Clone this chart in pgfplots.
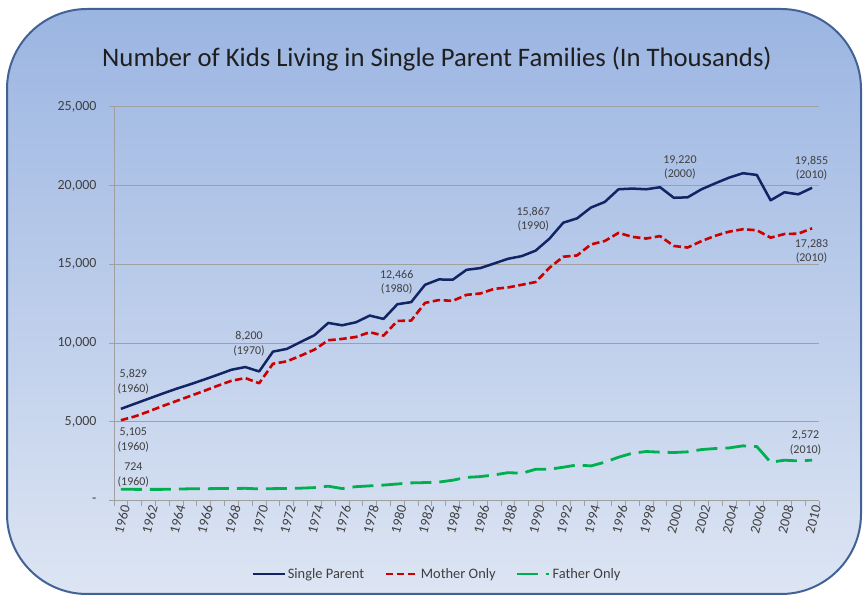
\documentclass[border=0pt]{standalone}
\usepackage{fontspec}
\setmainfont{Carlito}
\usepackage{pgfplots}
\pgfplotsset{compat=1.18}
\definecolor{navy}{RGB}{18,36,100}
\definecolor{redl}{RGB}{204,0,0}
\definecolor{greenl}{RGB}{0,176,80}
\definecolor{gridg}{RGB}{160,160,160}
\definecolor{txt}{RGB}{64,64,64}
\definecolor{bgtop}{RGB}{155,181,226}
\definecolor{bgbot}{RGB}{221,229,243}
\definecolor{border}{RGB}{66,98,150}
\begin{document}
\begin{tikzpicture}
\path (0,0) rectangle (864bp,599bp);
\path[top color=bgtop, bottom color=bgbot, draw=border, line width=2bp, rounded corners=80bp] (7bp,5bp) rectangle (861bp,590bp);
\node[font=\fontsize{26.8}{30}\selectfont, text=black!88] at (437bp,540bp) {Number of Kids Living in Single Parent Families (In Thousands)};
\begin{axis}[
  at={(114bp,98.3bp)}, anchor=south west,
  scale only axis, width=705bp, height=394bp,
  xmin=1959.5, xmax=2010.5, ymin=0, ymax=25000,
  axis x line=bottom, axis y line=left,
  axis line style={gridg, line width=1bp, -},
  scaled y ticks=false,
  ytick={0,5000,10000,15000,20000,25000},
  minor ytick={0,5000,10000,15000,20000,25000},
  yticklabels={-,{5,000},{10,000},{15,000},{20,000},{25,000}},
  ymajorgrids, major grid style={gridg, line width=0.9bp},
  tick align=outside, major tick length=0pt, minor tick length=5bp,
  tick style={gridg, line width=0.9bp},
  xtick={1960,1962,...,2010},
  minor xtick={1959.5,1960.5,...,2010.5},
  xticklabel style={rotate=75, anchor=east, yshift=-6bp, /pgf/number format/1000 sep=},
  yticklabel style={xshift=-14bp},
  tick label style={font=\fontsize{14}{16}\selectfont, text=txt},
  /pgf/number format/assume math mode=true,
  clip=false,
  legend style={at={(0.458,-0.186)}, anchor=center, legend columns=3, draw=none, fill=none,
    font=\fontsize{14.5}{16}\selectfont, text=txt,
    /tikz/every even column/.append style={column sep=18bp}},
  legend image code/.code={\draw[#1] (0bp,0bp) -- (32bp,0bp);},
  every axis plot/.append style={line join=round},
]
\addplot[navy, line width=2.5bp] coordinates {
(1960,5829)(1961,6150)(1962,6470)(1963,6790)(1964,7100)(1965,7380)(1966,7680)(1967,7990)(1968,8310)(1969,8480)
(1970,8200)(1971,9460)(1972,9630)(1973,10070)(1974,10500)(1975,11280)(1976,11130)(1977,11320)(1978,11745)(1979,11535)
(1980,12466)(1981,12600)(1982,13700)(1983,14040)(1984,14020)(1985,14650)(1986,14760)(1987,15050)(1988,15350)(1989,15520)
(1990,15867)(1991,16625)(1992,17640)(1993,17915)(1994,18600)(1995,18955)(1996,19760)(1997,19805)(1998,19760)(1999,19890)
(2000,19220)(2001,19250)(2002,19760)(2003,20140)(2004,20500)(2005,20780)(2006,20670)(2007,19060)(2008,19570)(2009,19440)
(2010,19855)};
\addlegendentry{Single Parent}
\addplot[redl, line width=2.6bp, dash pattern=on 7.5bp off 3.5bp] coordinates {
(1960,5105)(1961,5345)(1962,5660)(1963,6000)(1964,6320)(1965,6640)(1966,6960)(1967,7295)(1968,7610)(1969,7780)
(1970,7452)(1971,8690)(1972,8840)(1973,9200)(1974,9585)(1975,10180)(1976,10265)(1977,10390)(1978,10690)(1979,10475)
(1980,11406)(1981,11430)(1982,12550)(1983,12730)(1984,12680)(1985,13060)(1986,13150)(1987,13440)(1988,13530)(1989,13700)
(1990,13874)(1991,14780)(1992,15480)(1993,15563)(1994,16260)(1995,16477)(1996,16993)(1997,16740)(1998,16634)(1999,16790)
(2000,16162)(2001,16064)(2002,16473)(2003,16810)(2004,17072)(2005,17225)(2006,17161)(2007,16690)(2008,16920)(2009,16945)
(2010,17283)};
\addlegendentry{Mother Only}
\addplot[greenl, line width=2.8bp, dash pattern=on 21bp off 8bp] coordinates {
(1960,724)(1961,720)(1962,718)(1963,720)(1964,735)(1965,755)(1966,760)(1967,770)(1968,775)(1969,785)
(1970,748)(1971,765)(1972,775)(1973,795)(1974,830)(1975,920)(1976,770)(1977,890)(1978,940)(1979,990)
(1980,1060)(1981,1130)(1982,1150)(1983,1180)(1984,1300)(1985,1480)(1986,1530)(1987,1635)(1988,1780)(1989,1740)
(1990,1993)(1991,1995)(1992,2125)(1993,2270)(1994,2205)(1995,2440)(1996,2760)(1997,3015)(1998,3120)(1999,3080)
(2000,3058)(2001,3100)(2002,3245)(2003,3310)(2004,3350)(2005,3480)(2006,3435)(2007,2440)(2008,2570)(2009,2525)
(2010,2572)};
\addlegendentry{Father Only}
\tikzset{ann/.style={font=\fontsize{12}{14.5}\selectfont, text=txt, align=center, inner sep=0pt}}
\node[ann] at (axis cs:1960.9,7549) {5,829\\(1960)};
\node[ann] at (axis cs:1960.9,3860) {5,105\\(1960)};
\node[ann] at (axis cs:1960.9,1635) {724\\(1960)};
\node[ann] at (axis cs:1969.27,9966) {8,200\\(1970)};
\node[ann] at (axis cs:1979.95,13846) {12,466\\(1980)};
\node[ann] at (axis cs:1989.83,17853) {15,867\\(1990)};
\node[ann] at (axis cs:2000.44,21160) {19,220\\(2000)};
\node[ann] at (axis cs:2009.96,21096) {19,855\\(2010)};
\node[ann] at (axis cs:2009.96,15817) {17,283\\(2010)};
\node[ann] at (axis cs:2009.53,3670) {2,572\\(2010)};
\end{axis}
\end{tikzpicture}
\end{document}
